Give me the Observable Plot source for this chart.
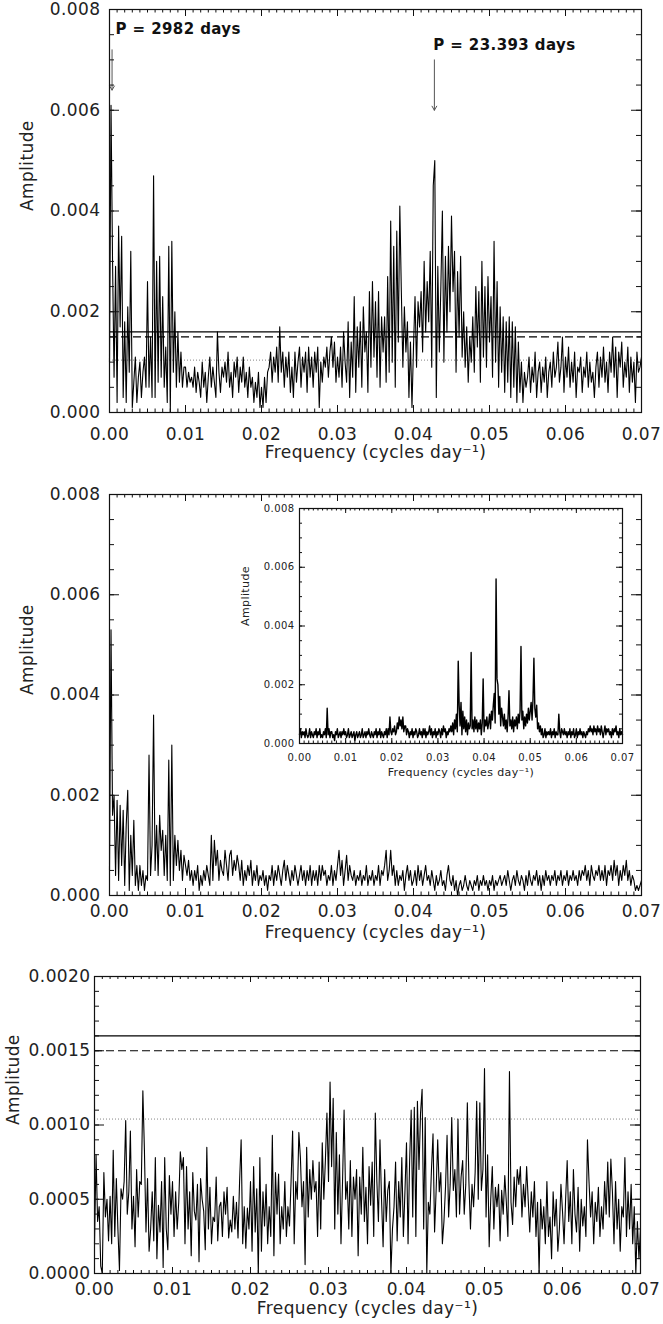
<!DOCTYPE html>
<html>
<head>
<meta charset="utf-8">
<script src="https://cdn.jsdelivr.net/npm/d3@7"></script>
<script src="https://cdn.jsdelivr.net/npm/@observablehq/plot@0.6"></script>
<style>
  html, body { margin: 0; padding: 0; background: #fff; overflow: hidden; }
  #root { position: relative; width: 663px; height: 1324px; background: #fff; }
  #root .pnl { position: absolute; left: 0; }
  #root svg text { letter-spacing: 0.4px; }
</style>
</head>
<body>
<div id="root"></div>
<script>
// ---------------- DATA ----------------
// Frequency grid of the periodograms (cycles/day), step 0.0002 from 0 to 0.07
const FREQ_STEP = 0.0002;
const N_FREQ = 351;

// Top panel: amplitude of original data, in units of 1e-4
const ampTop_e4 = [
  10,61,30,7,29, 2,37,17,35,3,   18,2,21,8,32, 1,6,11,2,7,
  10,3,8,11,5, 26,5,15,3,47,     3,30,6,31,7, 23,5,13,2,33,
  0,34,8,20,5, 16,6,12,5,9,      9,5,8,6,7, 5,9,4,8,6,
  3,10,5,8,2, 7,11,5,9,6,        3,16,8,4,9, 7,10,6,12,5,
  8,3,10,7,11, 4,9,6,11,5,       8,3,9,5,7, 2,6,3,8,1,
  5,1,7,2,8, 9,12,6,11,8,        13,6,17,8,12, 5,11,7,12,4,
  9,3,12,6,10, 13,5,11,8,12,     4,13,7,11,5, 12,8,13,1,10,
  6,11,9,13,7, 12,15,9,14,6,     11,7,13,5,16, 10,6,18,3,14,
  7,23,4,17,9, 18,5,21,12,16,    4,24,9,26,11, 22,7,24,5,19,
  12,19,6,27,8, 38,10,33,5,36,   14,41,24,9,21, 12,18,3,14,1,
  13,23,9,22,17, 24,12,30,16,26, 18,32,9,45,50, 3,29,12,25,40,
  10,31,16,33,20, 39,24,32,8,28, 15,31,11,20,9, 17,6,15,10,19,
  8,25,13,24,6, 30,11,25,9,27,   14,23,7,34,10, 26,5,21,8,19,
  4,18,6,19,3, 18,5,17,2,14,     4,10,2,8,5, 7,11,4,9,6,
  12,3,8,10,4, 9,6,11,3,8,       10,5,12,7,9, 14,6,9,15,4,
  11,7,13,5,10, 6,12,3,9,8,      11,4,9,7,12, 5,10,6,8,3,
  9,12,5,11,7, 13,6,10,4,12,     8,15,7,13,3, 12,9,14,5,10,
  7,13,4,11,6, 10,2,12,8,9,      11
];

// Middle panel: amplitude after prewhitening, in units of 1e-4
const ampMid_e4 = [
  5,53,16,20,4, 19,3,18,6,17,    2,14,21,1,12, 4,15,2,6,1,
  6,2,5,1,4, 3,28,4,10,36,       5,14,4,16,9, 13,4,12,3,27,
  2,30,3,12,6, 11,5,9,3,8,       6,4,7,3,5, 2,5,3,6,1,
  4,2,5,3,6, 4,2,12,3,11,        6,9,3,7,5, 4,9,6,3,8,
  9,4,7,5,8, 6,3,7,2,5,          3,6,4,7,2, 5,3,6,2,4,
  3,5,2,4,1, 4,3,6,2,5,          3,6,4,2,5, 7,3,6,4,2,
  5,3,6,4,2, 4,6,3,5,2,          5,3,6,2,5, 3,5,2,6,3,
  6,4,5,2,4, 3,6,2,5,3,          6,9,4,7,2, 5,8,3,6,4,
  3,5,2,4,3, 5,2,4,3,6,          2,4,3,5,2, 4,3,6,2,5,
  4,6,9,3,5, 9,4,6,2,5,          2,4,3,5,1, 4,6,3,5,2,
  3,5,2,6,3, 5,2,4,6,3,          4,2,5,3,1, 4,2,3,5,2,
  3,1,4,6,3, 2,4,1,3,0,          2,3,1,2,4, 2,1,3,2,1,
  3,2,4,1,3, 2,4,2,3,1,          3,2,4,1,3, 2,3,4,2,3,
  4,2,5,3,1, 3,4,2,5,3,          2,4,3,1,4, 2,5,3,2,4,
  3,5,2,4,1, 4,2,5,3,4,          2,4,3,5,2, 4,3,5,2,4,
  3,5,2,4,3, 5,3,4,2,5,          3,5,4,6,3, 5,2,6,4,3,
  5,4,6,3,5, 3,6,2,5,4,          6,3,7,4,6, 2,5,3,6,4,
  7,3,5,2,4, 3,1,2,1,2,          3
];

// Inset: spectral window, in units of 1e-4
const ampInset_e4 = [
  3,5,2,4,3, 4,2,5,3,2,          3,5,2,4,3, 2,4,3,5,2,
  4,3,5,2,3, 2,4,3,5,2,          12,3,5,2,4, 4,2,3,1,4,
  3,5,2,3,4, 2,4,3,5,3,          4,2,3,5,2, 3,4,2,3,4,
  1,3,4,2,3, 4,2,3,5,2,          3,4,2,4,3, 5,3,2,4,3,
  2,4,3,5,2, 4,3,5,2,4,          3,2,4,3,5, 2,5,3,9,4,
  3,5,4,6,3, 4,7,5,9,6,          8,5,9,4,6, 6,3,5,4,2,
  4,3,5,2,4, 3,5,4,2,3,          5,3,4,2,5, 3,5,2,4,3,
  4,6,3,5,2, 4,3,5,2,4,          3,5,4,2,5, 3,6,4,5,2,
  4,3,5,4,6, 4,7,3,8,5,          10,4,28,13,6, 14,3,11,5,9,
  4,8,3,7,5, 6,31,5,8,4,         9,5,8,4,7, 5,8,3,7,22,
  4,8,6,9,5, 7,10,5,11,8,        13,17,7,56,22, 20,10,16,6,12,
  9,6,10,5,8, 4,9,18,6,8,        5,9,4,8,6, 9,5,10,7,11,
  33,8,11,5,9, 6,10,7,12,8,      11,14,8,15,29, 12,9,13,5,7,
  4,6,3,5,2, 3,5,2,4,3,          4,3,5,2,4, 3,5,2,4,3,
  3,10,4,2,5, 4,3,5,3,4,         2,4,3,5,2, 4,3,5,2,3,
  5,2,4,3,5, 3,4,2,4,3,          2,4,3,5,4, 6,4,5,3,6,
  4,5,3,6,4, 5,3,6,4,2,          4,6,3,5,4, 5,3,4,2,5,
  3,5,4,6,3, 4,2,5,3,4,          3
];

// Bottom panel: residual amplitude, in units of 1e-5
const ampBot_e5 = [
  20,80,35,45,5, 0,68,38,50,22,        52,20,83,25,64, 30,2,57,50,62,
  103,40,55,96,30, 52,18,70,38,62,     60,123,83,28,64, 15,30,55,22,78,
  10,46,28,62,4, 78,30,16,66,40,       62,25,55,30,48, 82,70,78,20,72,
  30,55,12,68,42, 36,60,8,64,50,       42,16,85,30,58, 20,38,35,65,22,
  45,48,25,55,40, 58,24,36,28,52,      30,48,24,62,90, 20,45,17,44,30,
  62,15,72,28,57, 0,78,15,55,32,       60,20,45,25,93, 12,68,40,67,20,
  45,30,62,25,45, 32,62,96,20,62,      50,95,78,45,62, 6,85,38,70,50,
  76,55,62,25,75, 30,88,50,76,108,     62,129,72,118,30, 95,40,80,20,62,
  110,50,62,30,76, 25,65,50,70,12,     65,40,85,35,58, 20,72,46,75,25,
  108,62,35,90,50, 18,70,35,56,62,     0,30,45,75,22, 62,38,78,25,55,
  88,20,76,110,38, 112,25,116,70,108,  124,30,105,0,48, 40,70,94,28,56,
  90,55,68,20,35, 58,93,38,60,105,     56,70,38,104,40, 65,76,40,60,115,
  62,30,60,45,68, 116,50,115,56,70,    138,38,80,18,50, 72,30,58,45,60,
  22,56,40,66,48, 25,136,48,33,65,     45,70,60,72,38, 60,45,72,50,28,
  55,38,62,25,48, 0,50,30,45,20,       62,25,38,10,55, 32,50,15,30,60,
  42,20,50,76,35, 55,20,70,40,28,      58,15,50,32,45, 25,90,62,38,55,
  20,48,35,58,25, 45,30,62,40,75,      38,77,55,20,62, 30,50,15,45,38,
  78,25,55,30,60, 20,45,0,35,10,       30
];

// Significance thresholds (amplitude)
const thresholdSolid = 0.0016;
const thresholdDashed = 0.0015;
const thresholdDotted = 0.00104;

// Annotated periods (days)
const periodLong = 2982;
const periodShort = 23.393;
const periodLongLabel = "P = 2982 days";
const periodShortLabel = "P = 23.393 days";

// Axis ticks and labels
const xMajorTicks = [0, 0.01, 0.02, 0.03, 0.04, 0.05, 0.06, 0.07];
const xTickLabels = ["0.00", "0.01", "0.02", "0.03", "0.04", "0.05", "0.06", "0.07"];
const yTicksWide = [0, 0.002, 0.004, 0.006, 0.008];
const yLabelsWide = ["0.000", "0.002", "0.004", "0.006", "0.008"];
const yTicksResid = [0, 0.0005, 0.001, 0.0015, 0.002];
const yLabelsResid = ["0.0000", "0.0005", "0.0010", "0.0015", "0.0020"];
const xTitle = "Frequency (cycles day\u207B\u00B9)";
const yTitle = "Amplitude";

// ---------------- BUILD ----------------
const freq = d3.range(N_FREQ).map(i => +(i * FREQ_STEP).toFixed(4));
const rows = (arr, unit) => arr.map((v, i) => ({f: freq[i], a: v * unit}));
const FONT = "'DejaVu Sans', 'Liberation Sans', sans-serif";
const X_MAX = 0.07;

function panel(c) {
  const plotH = c.height - c.mt - c.mb;
  const plotW = 663 - c.ml - c.mr;
  const xMinor = d3.range(0, 71).map(i => +(i / 1000).toFixed(3));
  const nY = Math.round(c.yMax / c.yMinorStep);
  const yMinor = d3.range(0, nY + 1).map(i => +(i * c.yMinorStep).toFixed(6));
  const T = c.tick;
  // pixel tick lengths converted into data units of each scale
  const dyU = px => px * c.yMax / plotH;
  const dxU = px => px * X_MAX / plotW;
  const st = {stroke: "#111", strokeWidth: 1};
  const xTicks = (vals, len) => [
    Plot.ruleX(vals, {x: d => d, y1: 0, y2: dyU(len), ...st}),
    Plot.ruleX(vals, {x: d => d, y1: c.yMax - dyU(len), y2: c.yMax, ...st})
  ];
  const yTicks = (vals, len) => [
    Plot.ruleY(vals, {y: d => d, x1: 0, x2: dxU(len), ...st}),
    Plot.ruleY(vals, {y: d => d, x1: X_MAX - dxU(len), x2: X_MAX, ...st})
  ];
  const marks = [
    ...(c.under || []),
    Plot.line(rows(c.data, c.unit), {x: "f", y: "a", stroke: "#000", strokeWidth: c.lw}),
    ...(c.over || []),
    ...xTicks(xMinor, T.xMin),
    ...xTicks(xMajorTicks, T.xMaj),
    ...yTicks(yMinor, T.yMin),
    ...yTicks(c.yTicks, T.yMaj),
    Plot.frame({stroke: "#111", strokeWidth: 1.2}),
    Plot.axisX({anchor: "bottom", ticks: xMajorTicks, tickSize: 0, tickPadding: c.xPad,
      tickFormat: d => xTickLabels[xMajorTicks.indexOf(d)], label: null, fill: "#222"}),
    Plot.axisY({anchor: "left", ticks: c.yTicks, tickSize: 0, tickPadding: c.yPad,
      tickFormat: d => c.yLabels[c.yTicks.indexOf(d)], label: null, fill: "#222"}),
    Plot.text([xTitle], {frameAnchor: "bottom", dy: c.titleDy, fill: "#222", fontSize: c.titleFs || c.fs}),
    Plot.text([yTitle], {frameAnchor: "left", dx: c.ampDx, rotate: -90, fill: "#222", fontSize: c.titleFs || c.fs})
  ];
  const svg = Plot.plot({
    width: 663,
    height: c.height,
    marginTop: c.mt, marginBottom: c.mb, marginLeft: c.ml, marginRight: c.mr,
    x: {domain: [0, X_MAX], label: null},
    y: {domain: [0, c.yMax], label: null},
    style: {fontFamily: FONT, fontSize: c.fs + "px", background: "transparent", overflow: "visible"},
    marks
  });
  svg.classList.add("pnl");
  svg.style.top = c.top + "px";
  svg.style.maxWidth = "none";
  document.getElementById("root").appendChild(svg);
}

const thresholdMarks = [
  Plot.ruleY([thresholdDotted], {stroke: "#666", strokeWidth: 0.8, strokeDasharray: "1,2"}),
  Plot.ruleY([thresholdDashed], {stroke: "#000", strokeWidth: 1.2, strokeDasharray: "8,4"}),
  Plot.ruleY([thresholdSolid], {stroke: "#000", strokeWidth: 1.2})
];

const arrows = [
  {x1: 1 / periodLong, y1: 0.0072, x2: 1 / periodLong, y2: 0.0064},
  {x1: 1 / periodShort, y1: 0.0070, x2: 1 / periodShort, y2: 0.0060}
];
const notes = [
  {f: 0.0008, a: 0.0076, t: periodLongLabel},
  {f: 0.0426, a: 0.0073, t: periodShortLabel}
];

// Top panel
panel({
  data: ampTop_e4, unit: 1e-4, top: 0, height: 470, mt: 9, mb: 58, ml: 109, mr: 22,
  yMax: 0.008, yTicks: yTicksWide, yLabels: yLabelsWide, yMinorStep: 0.0005,
  xPad: 15, yPad: 9, fs: 17, titleDy: 45, ampDx: -82, lw: 1.1,
  tick: {xMaj: 7, xMin: 3.5, yMaj: 10, yMin: 5},
  under: thresholdMarks,
  over: [
    Plot.arrow(arrows, {x1: "x1", y1: "y1", x2: "x2", y2: "y2", stroke: "#555", strokeWidth: 1, headLength: 7}),
    Plot.text(notes, {x: "f", y: "a", text: "t", textAnchor: "start", fontSize: 15, fontWeight: "bold", fill: "#111"})
  ]
});

// Middle panel
panel({
  data: ampMid_e4, unit: 1e-4, top: 480, height: 475, mt: 14, mb: 60, ml: 109, mr: 22,
  yMax: 0.008, yTicks: yTicksWide, yLabels: yLabelsWide, yMinorStep: 0.0005,
  xPad: 9, yPad: 9, fs: 17, titleDy: 42, ampDx: -82, lw: 1.1,
  tick: {xMaj: 7, xMin: 3.5, yMaj: 10, yMin: 5}
});

// Inset (spectral window)
panel({
  data: ampInset_e4, unit: 1e-4, top: 490, height: 303, mt: 18, mb: 50, ml: 299, mr: 41,
  yMax: 0.008, yTicks: yTicksWide, yLabels: yLabelsWide, yMinorStep: 0.0005,
  xPad: 10, yPad: 5, fs: 10, titleFs: 11, titleDy: 32, ampDx: -54, lw: 1.4,
  tick: {xMaj: 5, xMin: 2.5, yMaj: 6, yMin: 3}
});

// Bottom panel
panel({
  data: ampBot_e5, unit: 1e-5, top: 960, height: 364, mt: 16, mb: 51, ml: 94, mr: 23,
  yMax: 0.002, yTicks: yTicksResid, yLabels: yLabelsResid, yMinorStep: 0.0001,
  xPad: 9, yPad: 4, fs: 17, titleDy: 40, ampDx: -81, lw: 1.1,
  tick: {xMaj: 6, xMin: 3, yMaj: 10, yMin: 5},
  under: thresholdMarks
});
</script>
</body>
</html>
